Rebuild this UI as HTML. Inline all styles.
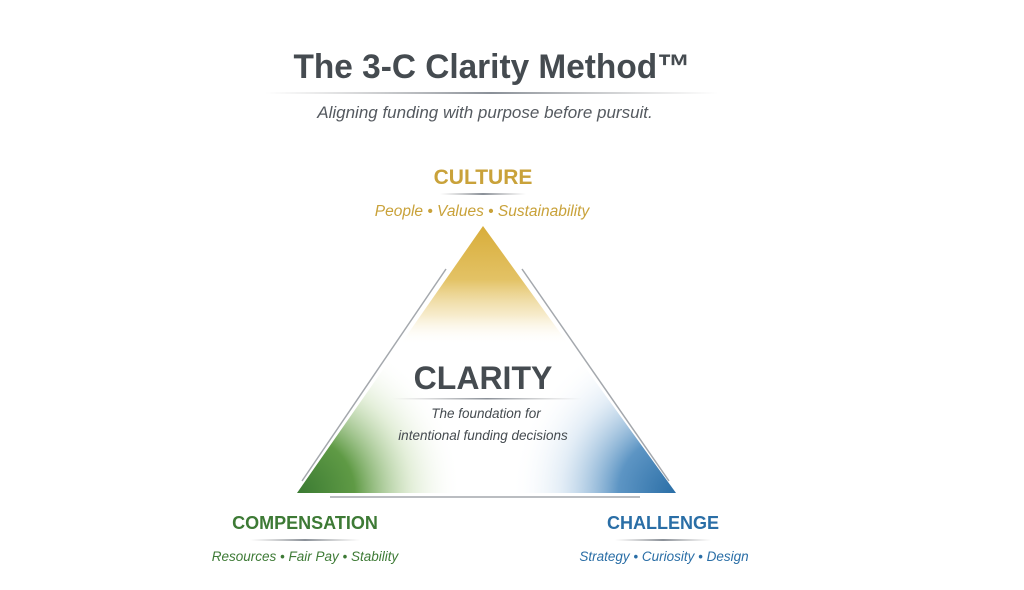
<!DOCTYPE html>
<html><head><style>
body{margin:0;background:#fff;width:1024px;height:585px;overflow:hidden;font-family:"Liberation Sans",sans-serif}
</style></head><body>
<svg width="1024" height="585" viewBox="0 0 1024 585" xmlns="http://www.w3.org/2000/svg">
<defs>
<clipPath id="tri"><polygon points="483,226 297,493 676,493"/></clipPath>
<linearGradient id="gold" x1="0" y1="226" x2="0" y2="345" gradientUnits="userSpaceOnUse">
<stop offset="0" stop-color="#d8ad3a"/><stop offset="0.45" stop-color="#e3c265"/><stop offset="0.75" stop-color="#f3e3b5" stop-opacity="0.7"/><stop offset="1" stop-color="#fff" stop-opacity="0"/></linearGradient>
<radialGradient id="green" cx="297" cy="493" r="165" gradientUnits="userSpaceOnUse">
<stop offset="0" stop-color="#3a7a32"/><stop offset="0.35" stop-color="#5f9a45"/><stop offset="0.7" stop-color="#c9dfb5" stop-opacity="0.5"/><stop offset="1" stop-color="#fff" stop-opacity="0"/></radialGradient>
<radialGradient id="blue" cx="676" cy="493" r="165" gradientUnits="userSpaceOnUse">
<stop offset="0" stop-color="#2a6ea6"/><stop offset="0.35" stop-color="#5d95c4"/><stop offset="0.7" stop-color="#c8dcee" stop-opacity="0.5"/><stop offset="1" stop-color="#fff" stop-opacity="0"/></radialGradient>
<linearGradient id="hl" x1="0" x2="1"><stop offset="0" stop-color="#aaa" stop-opacity="0"/><stop offset="0.5" stop-color="#8a9098"/><stop offset="1" stop-color="#aaa" stop-opacity="0"/></linearGradient>
</defs>
<g clip-path="url(#tri)">
<rect x="290" y="220" width="400" height="280" fill="#fff"/>
<rect x="290" y="220" width="400" height="280" fill="url(#gold)"/>
<rect x="290" y="220" width="400" height="280" fill="url(#green)"/>
<rect x="290" y="220" width="400" height="280" fill="url(#blue)"/>
</g>
<g stroke="#8d9298" stroke-width="1.5" fill="none" opacity="0.8">
<line x1="446" y1="269" x2="302" y2="481"/>
<line x1="522" y1="269" x2="669" y2="481"/>
<line x1="330" y1="497" x2="640" y2="497"/>
</g>
<text x="492" y="78" text-anchor="middle" font-size="34" font-weight="bold" fill="#454b50" textLength="397" lengthAdjust="spacingAndGlyphs">The 3-C Clarity Method™</text>
<rect x="265" y="92" width="453" height="2" fill="url(#hl)"/>
<text x="485" y="118" text-anchor="middle" font-size="17" font-style="italic" fill="#555a60">Aligning funding with purpose before pursuit.</text>
<text x="483" y="184" text-anchor="middle" font-size="21" font-weight="bold" fill="#c9a23a">CULTURE</text>
<rect x="440" y="193" width="86" height="2" fill="url(#hl)"/>
<text x="482" y="216" text-anchor="middle" font-size="15.5" font-style="italic" fill="#c9a23a">People • Values • Sustainability</text>
<text x="483" y="389" text-anchor="middle" font-size="32" font-weight="bold" fill="#454b50">CLARITY</text>
<rect x="392" y="398" width="190" height="1.5" fill="url(#hl)"/>
<text x="486" y="418" text-anchor="middle" font-size="13.5" font-style="italic" fill="#454b50">The foundation for</text>
<text x="483" y="440" text-anchor="middle" font-size="13.5" font-style="italic" fill="#454b50">intentional funding decisions</text>
<text x="305" y="529" text-anchor="middle" font-size="18" font-weight="bold" fill="#3d7a35">COMPENSATION</text>
<rect x="250" y="539" width="110" height="2" fill="url(#hl)"/>
<text x="305" y="561" text-anchor="middle" font-size="13.5" font-style="italic" fill="#3d7a35">Resources • Fair Pay • Stability</text>
<text x="663" y="529" text-anchor="middle" font-size="18" font-weight="bold" fill="#2a6ea6">CHALLENGE</text>
<rect x="615" y="539" width="96" height="2" fill="url(#hl)"/>
<text x="664" y="561" text-anchor="middle" font-size="13.5" font-style="italic" fill="#2a6ea6">Strategy • Curiosity • Design</text>
</svg>
</body></html>
